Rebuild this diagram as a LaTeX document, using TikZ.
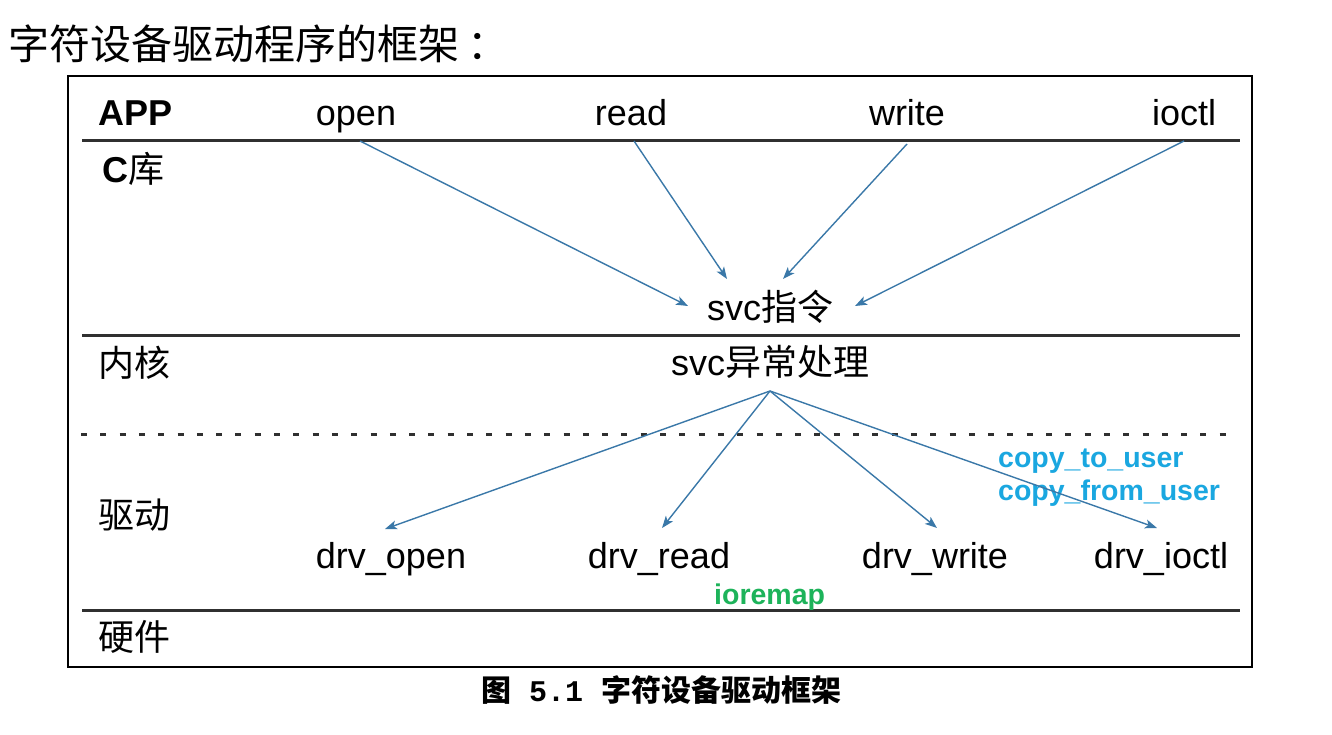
\documentclass[tikz,border=0pt]{standalone}
\usepackage{fontspec}
\setmainfont{Liberation Sans}
\newfontfamily\cjk{Noto Sans CJK SC}
\newfontfamily\capmono{Liberation Mono}
\usetikzlibrary{arrows.meta}
\definecolor{arrowblue}{HTML}{3A78A8}
\definecolor{cyanlab}{HTML}{1AA7E0}
\definecolor{greenlab}{HTML}{1DB35A}
\definecolor{layerline}{HTML}{303030}
\begin{document}
\begin{tikzpicture}[x=1pt,y=-1pt,
  lab/.style={inner sep=0pt,anchor=base,font=\fontsize{36}{40}\selectfont},
  layer/.style={inner sep=0pt,anchor=base west,font=\fontsize{36}{40}\selectfont},
  note/.style={inner sep=0pt,anchor=base west,font=\fontsize{28.5}{32}\selectfont\bfseries},
  conn/.style={draw=arrowblue,line width=1.4pt,-{Stealth[length=12pt,width=9pt,inset=3pt]}},
  sep/.style={draw=layerline,line width=3pt}
]
\useasboundingbox (0,0) rectangle (1332,735);
% title
\node[inner sep=0pt,anchor=base west,font=\cjk\fontsize{41}{45}\selectfont] (title) at (8,60) {字符设备驱动程序的框架\kern8pt：};
% frame
\draw[line width=1.4pt] (68,76) rectangle (1252,667);
\draw[sep] (82,141) -- (1240,141);
\draw[sep] (82,335) -- (1240,335);
\draw[sep] (82,610) -- (1240,610);
\draw[draw=layerline,line width=3pt,dash pattern=on 6pt off 13.3pt] (81,434) -- (1232,434);
% layer labels
\node[layer,font=\fontsize{36}{40}\selectfont\bfseries] (app) at (98,126) {APP};
\node[layer] (clib) at (102,183) {\bfseries C\cjk\mdseries 库};
\node[layer,font=\cjk\fontsize{36}{40}\selectfont] (kern) at (98,376) {内核};
\node[layer,font=\cjk\fontsize{36}{40}\selectfont] (drv) at (98,528) {驱动};
\node[layer,font=\cjk\fontsize{36}{40}\selectfont] (hw) at (98,650) {硬件};
% APP calls
\node[lab] (open) at (356,126) {open};
\node[lab] (read) at (631,126) {read};
\node[lab] (write) at (907,126) {write};
\node[lab] (ioctl) at (1184,126) {ioctl};
% svc
\node[lab] (svc) at (770,320) {svc{\cjk 指令}};
\node[lab] (svch) at (770,375) {svc{\cjk 异常处理}};
% drivers
\node[lab] (dopen) at (391,568) {drv\_open};
\node[lab] (dread) at (659,568) {drv\_read};
\node[lab] (dwrite) at (935,568) {drv\_write};
\node[lab] (dioctl) at (1161,568) {drv\_ioctl};
% notes
\node[note,text=cyanlab] (c2u) at (998,467) {copy\_to\_user};
\node[note,text=cyanlab] (cfu) at (998,500) {copy\_from\_user};
\node[note,text=greenlab] (iorm) at (714,604) {ioremap};
% caption
\node[inner sep=0pt,anchor=base,font=\fontsize{30}{34}\selectfont] (cap) at (661,701) {{\cjk\bfseries 图}{\capmono\bfseries\ 5.1\ }{\cjk\bfseries 字符设备驱动框架}};
% connector end points
\coordinate (oS) at (360,141);
\coordinate (rS) at (634,141);
\coordinate (wS) at (907,144);
\coordinate (iS) at (1184,141);
\coordinate (svcA) at (688,306);
\coordinate (svcB) at (727,279);
\coordinate (svcC) at (783,279);
\coordinate (svcD) at (855,306);
\coordinate (hS) at (770,391);
\coordinate (dA) at (385,529);
\coordinate (dB) at (662,528);
\coordinate (dC) at (937,528);
\coordinate (dD) at (1157,528);
\draw[conn] (oS) -- (svcA);
\draw[conn] (rS) -- (svcB);
\draw[conn] (wS) -- (svcC);
\draw[conn] (iS) -- (svcD);
\draw[conn] (hS) -- (dA);
\draw[conn] (hS) -- (dB);
\draw[conn] (hS) -- (dC);
\draw[conn] (hS) -- (dD);
\end{tikzpicture}
\end{document}
